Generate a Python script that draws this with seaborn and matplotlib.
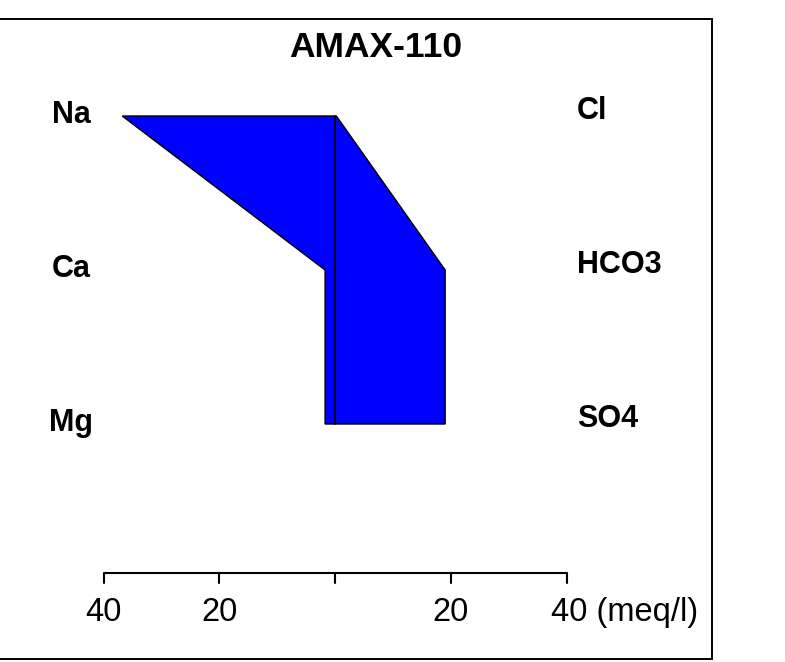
import matplotlib
matplotlib.use("Agg")
import matplotlib.pyplot as plt
from matplotlib.patches import Rectangle
import seaborn as sns

# Stiff diagram data (meq/l)
title = "AMAX-110"
cations = ["Na", "Ca", "Mg"]
cation_values = [36.8, 1.75, 1.75]
anions = ["Cl", "HCO3", "SO4"]
anion_values = [0.2, 19.0, 19.0]
tick_values = [-40, -20, 0, 20, 40]
tick_labels = ["40", "20", "", "20", "40 (meq/l)"]

sns.set_theme(style="white")
plt.rcParams["font.family"] = ["Liberation Sans", "DejaVu Sans"]

W, H = 785, 662
fig = plt.figure(figsize=(W / 100, H / 100), dpi=100)
ax = fig.add_axes([0, 0, 1, 1])
ax.set_axis_off()

# pixel-to-data geometry
px_per_unit = 5.7875
x_center = 335.2
row_gap = 154.0
y_top_row = 116.0


def xd(px):
    return (px - x_center) / px_per_unit


def yd(py):
    return 3 + (y_top_row - py) / row_gap


ax.set_xlim(xd(0), xd(W))
ax.set_ylim(yd(H), yd(0))

levels = [3, 2, 1]

# polygon: cations on the left (negative), anions on the right
poly_x = [-v for v in cation_values] + [v for v in anion_values[::-1]]
poly_y = levels + levels[::-1]
ax.fill(poly_x, poly_y, facecolor="#0000FF", edgecolor="black", linewidth=1.0, zorder=2)

# zero line
sns.lineplot(x=[0, 0], y=[levels[0], levels[-1]], sort=False, estimator=None,
             color="black", linewidth=1.3, ax=ax, zorder=3)

# ion labels
for name, lev in zip(cations, levels):
    ax.text(xd(71), lev - 7 / row_gap, name, ha="center", va="baseline",
            fontsize=22, fontweight="bold", color="black")
for name, lev in zip(anions, levels):
    ax.text(xd(577), lev - 3 / row_gap, name, ha="left", va="baseline",
            fontsize=22, fontweight="bold", color="black")

# concentration scale
y_axis = yd(573)
y_tick_end = yd(583)
ax.plot([tick_values[0], tick_values[-1]], [y_axis, y_axis], color="black",
        linewidth=1.5, solid_capstyle="butt")
for tv, tl in zip(tick_values, tick_labels):
    ax.plot([tv, tv], [y_axis, y_tick_end], color="black", linewidth=1.5)
    if tl:
        if tl.startswith("40 ("):
            ax.text(tv - 16 / px_per_unit, yd(621), tl, ha="left", va="baseline",
                    fontsize=23.5, color="black")
        else:
            ax.text(tv, yd(621), tl, ha="center", va="baseline",
                    fontsize=23.5, color="black")

# title
ax.text(xd(375.5), yd(57), title, ha="center", va="baseline",
        fontsize=25.5, fontweight="bold", color="black")

# outer frame
fig.patches.append(Rectangle((-0.01, 3 / H), 711.5 / W + 0.01, (659 - 19.3) / H,
                             transform=fig.transFigure, fill=False,
                             edgecolor="black", linewidth=1.4))

fig.savefig("out.png", dpi=100)
